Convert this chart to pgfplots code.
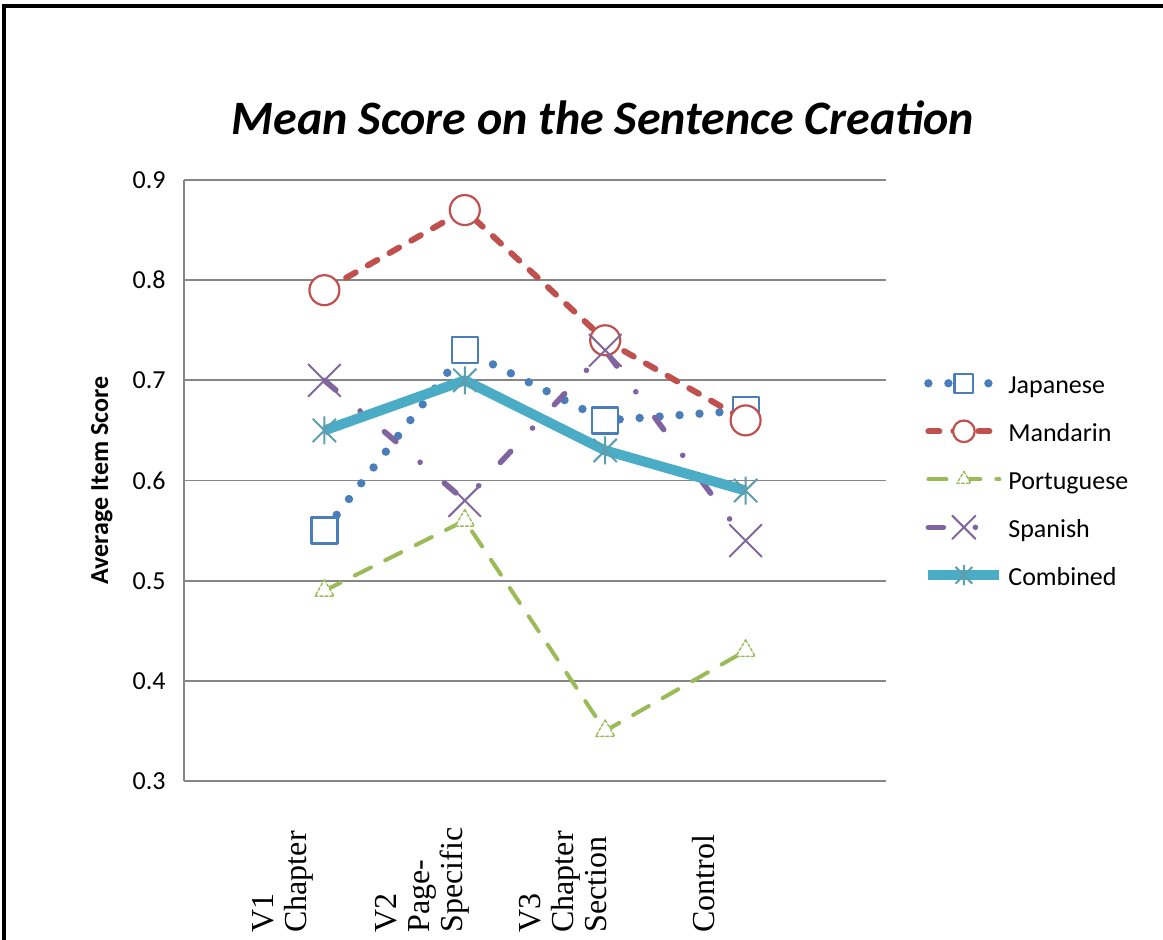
\documentclass[border=0pt]{standalone}
\usepackage{pgfplots}
\pgfplotsset{compat=1.18}
\usepackage{fontspec}
\setmainfont{Carlito}
\newfontfamily\timesfont{Liberation Serif}
\definecolor{jap}{RGB}{74,126,187}
\definecolor{man}{RGB}{192,80,77}
\definecolor{por}{RGB}{155,187,89}
\definecolor{spa}{RGB}{128,100,162}
\definecolor{com}{RGB}{75,172,198}
\definecolor{gridc}{RGB}{134,134,134}
\pgfdeclareplotmark{xstar}{%
  \pgfpathmoveto{\pgfqpoint{-.83\pgfplotmarksize}{-.83\pgfplotmarksize}}%
  \pgfpathlineto{\pgfqpoint{.83\pgfplotmarksize}{.83\pgfplotmarksize}}%
  \pgfpathmoveto{\pgfqpoint{-.83\pgfplotmarksize}{.83\pgfplotmarksize}}%
  \pgfpathlineto{\pgfqpoint{.83\pgfplotmarksize}{-.83\pgfplotmarksize}}%
  \pgfpathmoveto{\pgfqpoint{0pt}{-\pgfplotmarksize}}%
  \pgfpathlineto{\pgfqpoint{0pt}{\pgfplotmarksize}}%
  \pgfusepathqstroke
}
\begin{document}
\begin{tikzpicture}
\useasboundingbox (0,0) rectangle (581.5pt,469.5pt);
\draw[line width=1.6pt] (2pt,-5pt) -- (2pt,466.5pt) -- (590pt,466.5pt);
\begin{axis}[
  at={(92pt,79pt)}, anchor=south west, scale only axis,
  width=351pt, height=300.5pt,
  xmin=-1, xmax=4, ymin=0.3, ymax=0.9,
  ytick={0.3,0.4,0.5,0.6,0.7,0.8,0.9},
  xtick={0,1,2,3},
  xticklabels={{V1\\Chapter},{V2\\Page-\\Specific},{V3\\Chapter\\Section},{Control}},
  axis x line*=bottom, axis y line*=left,
  axis line style={gridc, line width=0.9pt},
  major tick length=0pt,
  ymajorgrids, grid style={gridc, line width=0.9pt},
  /pgf/number format/fixed,
  /pgf/number format/precision=1,
  /pgf/number format/fixed zerofill,
  /pgf/number format/assume math mode=true,
  yticklabel style={font=\fontsize{13}{15}\selectfont, inner sep=0pt, anchor=east, xshift=-9pt},
  xticklabel style={inner sep=0pt, anchor=west, xshift=-21pt, yshift=-76pt, rotate=90, align=left, font=\timesfont\fontsize{16}{16.5}\selectfont},
  title={Mean Score on the Sentence Creation},
  title style={at={(axis description cs:0.597,1.056)}, anchor=base, font=\fontsize{24}{28}\selectfont\bfseries\itshape},
  ylabel={Average Item Score},
  every axis y label/.style={at={(axis description cs:-0.117,0.5)}, anchor=center, rotate=90, font=\fontsize{13}{15}\selectfont\bfseries},
  legend style={at={(axis description cs:1.0527,0.502)}, anchor=west, draw=none, fill=none, inner sep=0pt, row sep=11.3pt, font=\fontsize{13}{16}\selectfont, nodes={inner xsep=2pt, inner ysep=0pt}},
  legend cell align=left,
  legend image code/.code={\draw[mark repeat=2, mark phase=2, #1, every mark/.append style={scale=0.72}] plot coordinates {(0pt,0pt)(17.75pt,0pt)(35.5pt,0pt)};},
]
\addplot[jap, line width=4.2pt, line cap=round, line join=round, dash pattern=on 0pt off 10pt, mark=square*, mark size=6.5pt, mark options={solid, draw=jap, fill=white, line width=1.1pt}]
  coordinates {(0,0.55)(1,0.73)(2,0.66)(3,0.67)};
\addlegendentry{\strut Japanese}
\addplot[man, line width=3pt, line cap=round, line join=round, dash pattern=on 5.5pt off 7pt, mark=*, mark size=7.5pt, mark options={solid, draw=man, fill=white, line width=1.1pt}]
  coordinates {(0,0.79)(1,0.87)(2,0.74)(3,0.66)};
\addlegendentry{\strut Mandarin}
\addplot[por, line width=2pt, line cap=round, line join=round, dash pattern=on 9pt off 8pt, mark=triangle*, mark size=5.5pt, mark options={draw=por, fill=white, line width=0.7pt, dash pattern=on 1.5pt off 1pt}]
  coordinates {(0,0.49)(1,0.56)(2,0.35)(3,0.43)};
\addlegendentry{\strut Portuguese}
\addplot[spa, line width=2.8pt, line cap=round, line join=round, dash pattern=on 7.5pt off 16pt on 0pt off 16pt, mark=x, mark size=11.3pt, mark options={solid, draw=spa!85!gray, line width=1pt}]
  coordinates {(0,0.70)(1,0.58)(2,0.73)(3,0.54)};
\addlegendentry{\strut Spanish}
\addplot[com, line width=5pt, line join=round, mark=xstar, mark size=7pt, mark options={solid, draw=com!70!gray, line width=1pt}]
  coordinates {(0,0.65)(1,0.70)(2,0.63)(3,0.59)};
\addlegendentry{\strut Combined}
\end{axis}
\end{tikzpicture}
\end{document}
